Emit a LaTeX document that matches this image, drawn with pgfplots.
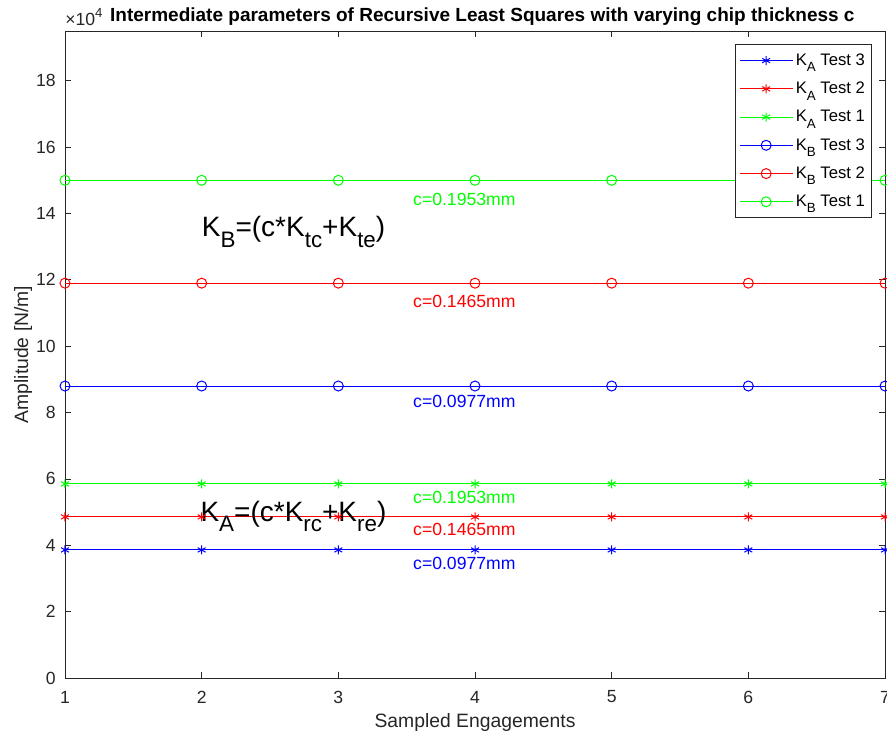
\documentclass[border=0pt]{standalone}
\usepackage{fontspec}
\setmainfont{Liberation Sans}
\usepackage{graphicx}
\usepackage{pgfplots}
\pgfplotsset{compat=1.18}

\definecolor{axgray}{rgb}{0.15,0.15,0.15}
\definecolor{mgreen}{rgb}{0,1,0}
\definecolor{mblue}{rgb}{0,0,1}
\definecolor{mred}{rgb}{1,0,0}

% lowered, smaller subscript in text mode
\newcommand\sub[1]{\raisebox{-0.38em}{\scalebox{0.8}{#1}}}
% legend sample: a line with one marker in its middle
\newcommand\legimg[2]{%
  \draw[draw=#1, line width=0.75pt] (0pt,0pt) -- (39.75pt,0pt);
  \draw[draw=#1, line width=0.75pt, #2] plot coordinates {(19.875pt,0pt)};}

\begin{document}
\begin{tikzpicture}
\begin{axis}[
  name=ax,
  scale only axis, width=615pt, height=485.25pt,
  xmin=1, xmax=7, ymin=0, ymax=195000,
  xtick={1,2,...,7},
  ytick={0,20000,40000,60000,80000,100000,120000,140000,160000,180000},
  yticklabels={0,2,4,6,8,10,12,14,16,18},
  scaled y ticks=false,
  /pgf/number format/assume math mode=true,
  axis line style={axgray, line width=0.6pt},
  tick style={axgray, line width=0.6pt},
  major tick length=4.5pt,
  tick align=inside,
  ticklabel style={font=\fontsize{13.2}{15}\selectfont, text=axgray},
  xticklabel style={anchor=center, yshift=-14.25pt},
  yticklabel style={anchor=east, xshift=-3.5pt},
  xlabel={Sampled Engagements},
  ylabel={Amplitude [N/m]},
  label style={font=\fontsize{14.5}{17}\selectfont, text=axgray},
  xlabel style={at={(axis description cs:0.5,-0.069)}, anchor=center},
  ylabel style={at={(axis description cs:-0.0512,0.5)}, anchor=center},
  title={Intermediate parameters of Recursive Least Squares with varying chip thickness c},
  title style={font=\bfseries\fontsize{14.25}{16}\selectfont, text=black,
    at={(axis description cs:0.509,1)}, anchor=base, yshift=1pt, inner sep=0pt},
  clip=false,
  legend cell align=left,
  legend style={at={(axis description cs:1,1)}, anchor=north east,
    xshift=-9.75pt, yshift=-9.75pt, draw=axgray, line width=0.6pt,
    font=\fontsize{12.5}{14}\selectfont, text=black,
    row sep=7pt, inner xsep=3pt, inner ysep=5pt},
  every axis plot/.append style={line width=0.75pt},
]

% K_A curves (asterisks)
\addplot[color=mblue, mark=asterisk, mark size=3.4pt,
  legend image code/.code={\legimg{mblue}{mark=asterisk, mark size=3.4pt}}] coordinates {
  (1,38600) (2,38600) (3,38600) (4,38600) (5,38600) (6,38600) (7,38600)};
\addlegendentry{K\sub{A} Test 3}
\addplot[color=mred, mark=asterisk, mark size=3.4pt,
  legend image code/.code={\legimg{mred}{mark=asterisk, mark size=3.4pt}}] coordinates {
  (1,48550) (2,48550) (3,48550) (4,48550) (5,48550) (6,48550) (7,48550)};
\addlegendentry{K\sub{A} Test 2}
\addplot[color=mgreen, mark=asterisk, mark size=3.4pt,
  legend image code/.code={\legimg{mgreen}{mark=asterisk, mark size=3.4pt}}] coordinates {
  (1,58500) (2,58500) (3,58500) (4,58500) (5,58500) (6,58500) (7,58500)};
\addlegendentry{K\sub{A} Test 1}

% K_B curves (circles)
\addplot[color=mblue, mark=o, mark size=3.75pt,
  legend image code/.code={\legimg{mblue}{mark=o, mark size=3.75pt}}] coordinates {
  (1,88000) (2,88000) (3,88000) (4,88000) (5,88000) (6,88000) (7,88000)};
\addlegendentry{K\sub{B} Test 3}
\addplot[color=mred, mark=o, mark size=3.75pt,
  legend image code/.code={\legimg{mred}{mark=o, mark size=3.75pt}}] coordinates {
  (1,119000) (2,119000) (3,119000) (4,119000) (5,119000) (6,119000) (7,119000)};
\addlegendentry{K\sub{B} Test 2}
\addplot[color=mgreen, mark=o, mark size=3.75pt,
  legend image code/.code={\legimg{mgreen}{mark=o, mark size=3.75pt}}] coordinates {
  (1,150000) (2,150000) (3,150000) (4,150000) (5,150000) (6,150000) (7,150000)};
\addlegendentry{K\sub{B} Test 1}

% chip thickness annotations
\begin{scope}[every node/.style={anchor=base west, inner sep=0pt, font=\fontsize{13.2}{15}\selectfont}]
\node[text=mgreen] at (axis cs:3.546,142400) {c=0.1953mm};
\node[text=mred]   at (axis cs:3.546,111800) {c=0.1465mm};
\node[text=mblue]  at (axis cs:3.546,81600)  {c=0.0977mm};
\node[text=mgreen] at (axis cs:3.546,52600)  {c=0.1953mm};
\node[text=mred]   at (axis cs:3.546,42800)  {c=0.1465mm};
\node[text=mblue]  at (axis cs:3.546,32800)  {c=0.0977mm};
\end{scope}

% model equations
\begin{scope}[every node/.style={anchor=base west, inner sep=0pt, font=\fontsize{21}{25}\selectfont}]
\node at (axis cs:2.0,133050) {K\sub{B}=(c*K\sub{tc}+K\sub{te})};
\node at (axis cs:1.99,47260) {K\sub{A}=(c*K\sub{rc}+K\sub{re})};
\end{scope}

% exponent of the y tick labels
\node[anchor=base west, inner sep=0pt, font=\fontsize{13.2}{15}\selectfont, text=axgray]
  at ([yshift=4.5pt]axis description cs:0,1) {×10\raisebox{0.45em}{\scalebox{0.75}{4}}};
\end{axis}
\pgfresetboundingbox
\path[use as bounding box] ([xshift=-48.75pt,yshift=-43.5pt]ax.south west)
  rectangle ([xshift=1.5pt,yshift=23.25pt]ax.north east);
\end{tikzpicture}
\end{document}
